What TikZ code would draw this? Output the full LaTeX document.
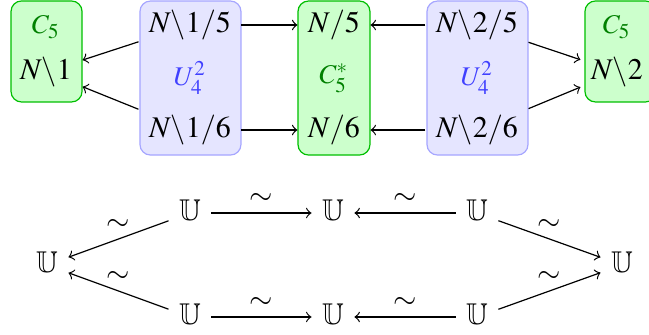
\documentclass[tikz,border=0pt]{standalone}
\usepackage{mathptmx}
\usepackage{amssymb}

\begin{document}
\begin{tikzpicture}[
    >=to,
    gbox/.style={
        draw=green!75!black, fill=green!20, rounded corners=3.5pt, minimum width=0.832cm, minimum height=1.183cm
    },
    bbox/.style={
        draw=blue!35, fill=blue!10, rounded corners=3.5pt, minimum width=1.183cm, minimum height=1.804cm
    },
    txt/.style={text height=1.7ex, text depth=0.55ex},
    ctxt/.style={font=\small, text=green!50!black},
    utxt/.style={font=\small, text=blue!75},
    lbl/.style={above, inner sep=2.5pt}
]
\useasboundingbox (0,0) rectangle (7.602,-3.924);

% BOXES
\node[gbox] (gleft) at (0.545,-0.603) {};
\node[bbox] (bleft) at (2.231,-0.914) {};
\node[gbox, minimum width=0.843cm, minimum height=1.804cm] (gmid) at (3.912,-0.914) {};
\node[bbox] (bright) at (5.593,-0.914) {};
\node[gbox] (gright) at (7.268,-0.603) {};

% TOP ROW TEXTS
\node[ctxt] (c5l) at (0.539,-0.316) {$C_5$};
\node[txt] (n1) at (0.539,-0.843) {$N\backslash 1$};

\node[txt] (n15) at (2.225,-0.293) {$N\backslash 1/5$};
\node[utxt] (u4l) at (2.225,-0.914) {$U_4^2$};
\node[txt] (n16) at (2.225,-1.523) {$N\backslash 1/6$};

\node[txt] (n5) at (3.912,-0.293) {$N/5$};
\node[ctxt] (c5s) at (3.912,-0.914) {$C_5^*$};
\node[txt] (n6) at (3.912,-1.523) {$N/6$};

\node[txt] (n25) at (5.587,-0.293) {$N\backslash 2/5$};
\node[utxt] (u4r) at (5.587,-0.914) {$U_4^2$};
\node[txt] (n26) at (5.587,-1.523) {$N\backslash 2/6$};

\node[ctxt] (c5r) at (7.227,-0.316) {$C_5$};
\node[txt] (n2) at (7.227,-0.843) {$N\backslash 2$};

% TOP ROW ARROWS
\draw[->] (n15) -- (n5);
\draw[->] (n16) -- (n6);
\draw[->] (n25) -- (n5);
\draw[->] (n26) -- (n6);
\draw[->] (n15) -- (n1);
\draw[->] (n16) -- (n1);
\draw[->] (n25) -- (n2);
\draw[->] (n26) -- (n2);

% BOTTOM DIAGRAM
\node[txt] (ul) at (0.551,-3.104) {$\mathbb{U}$};
\node[txt] (ut1) at (2.225,-2.495) {$\mathbb{U}$};
\node[txt] (ut2) at (3.900,-2.495) {$\mathbb{U}$};
\node[txt] (ut3) at (5.587,-2.495) {$\mathbb{U}$};
\node[txt] (ur) at (7.285,-3.104) {$\mathbb{U}$};
\node[txt] (ub1) at (2.225,-3.713) {$\mathbb{U}$};
\node[txt] (ub2) at (3.900,-3.713) {$\mathbb{U}$};
\node[txt] (ub3) at (5.587,-3.713) {$\mathbb{U}$};

\draw[->] (ut1) -- node[lbl]{$\sim$} (ul);
\draw[->] (ub1) -- node[lbl]{$\sim$} (ul);
\draw[->] (ut1) -- node[lbl]{$\sim$} (ut2);
\draw[->] (ut3) -- node[lbl]{$\sim$} (ut2);
\draw[->] (ub1) -- node[lbl]{$\sim$} (ub2);
\draw[->] (ub3) -- node[lbl]{$\sim$} (ub2);
\draw[->] (ut3) -- node[lbl]{$\sim$} (ur);
\draw[->] (ub3) -- node[lbl]{$\sim$} (ur);

\end{tikzpicture}
\end{document}
